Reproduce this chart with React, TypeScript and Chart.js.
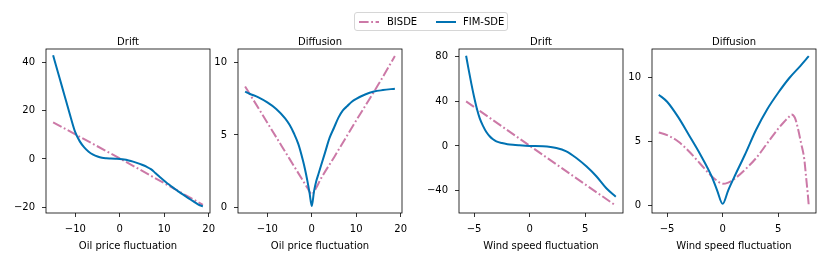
import React, { useEffect, useRef } from 'react';
import { Chart, registerables } from 'chart.js';

Chart.register(...registerables);

const BLUE = '#0072B2';
const PINK = '#CC79A7';
const FONT = '"DejaVu Sans", sans-serif';

// ---------- Panel 1: Oil drift ----------
const OIL_DRIFT_FIM_X = [-15, -14, -13, -12, -11, -10, -9, -8, -7, -6, -5, -4, -3, -2, -1, 0, 1, 2, 3, 4, 5, 6, 7, 8, 9, 10, 11, 12, 13, 14, 15, 16, 17, 18, 18.7];
const OIL_DRIFT_FIM_Y = [43, 36.5, 30, 23.5, 17, 11, 7.3, 4.8, 3, 1.8, 1.0, 0.5, 0.3, 0.2, 0.1, 0, -0.2, -0.6, -1.1, -1.7, -2.4, -3.2, -4.2, -5.8, -7.5, -9.0, -10.5, -11.9, -13.2, -14.5, -15.7, -16.9, -18.1, -19.2, -19.6];
const OIL_DRIFT_BI_X = [-15, 0, 18.7];
const OIL_DRIFT_BI_Y = [15.2, 0.2, -19.0];

// ---------- Panel 2: Oil diffusion ----------
const OIL_DIFF_FIM_X = [-15, -14, -12, -10, -8, -6, -5, -4, -3, -2, -1.5, -1, -0.5, 0, 0.5, 1, 1.5, 2, 3, 4, 5, 6, 7, 8, 9, 10, 12, 14, 16, 18.7];
const OIL_DIFF_FIM_Y = [8.0, 7.85, 7.6, 7.25, 6.8, 6.15, 5.7, 5.1, 4.35, 3.25, 2.6, 1.85, 1.0, 0.1, 1.1, 1.8, 2.3, 2.8, 3.8, 4.8, 5.5, 6.2, 6.7, 7.0, 7.3, 7.5, 7.8, 8.0, 8.1, 8.2];
const OIL_DIFF_BI_X = [-15, -10, -5, -2, -1, 0, 1, 2, 5, 10, 15, 18.7];
const OIL_DIFF_BI_Y = [8.35, 5.85, 3.35, 1.85, 1.35, 0.9, 1.35, 1.95, 3.45, 6.0, 8.5, 10.45];

// ---------- Panel 3: Wind drift ----------
const WIND_DRIFT_FIM_X = [-5.72, -5.5, -5.25, -5, -4.75, -4.5, -4.2, -3.9, -3.6, -3.3, -3.0, -2.5, -2.0, -1.5, -1.0, 0, 1.2, 2.4, 3.3, 4.2, 5.1, 6.0, 6.9, 7.75];
const WIND_DRIFT_FIM_Y = [81, 69, 56, 44, 33.5, 25, 18, 12.5, 8.7, 6, 4.2, 2.6, 1.6, 1.0, 0.6, 0, -0.3, -1.8, -4.8, -10.8, -18.3, -27.2, -38, -45.5];
const WIND_DRIFT_BI_X = [-5.72, 0, 7.75];
const WIND_DRIFT_BI_Y = [40, 0.2, -53.6];

// ---------- Panel 4: Wind diffusion ----------
const WIND_DIFF_FIM_X = [-5.75, -5, -4, -3, -2, -1, -0.5, 0, 0.5, 1, 2, 3, 4, 5, 6, 7, 7.75];
const WIND_DIFF_FIM_Y = [8.65, 8.1, 6.9, 5.45, 3.97, 2.3, 1.2, 0.15, 1.2, 2.15, 3.97, 5.9, 7.5, 8.8, 9.95, 10.9, 11.65];
const WIND_DIFF_BI_X = [-5.75, -5, -4, -3, -2, -1, -0.5, 0, 0.5, 1, 2, 3, 4, 5, 5.5, 6, 6.2, 6.5, 6.75, 7.05, 7.35, 7.5, 7.65, 7.75];
const WIND_DIFF_BI_Y = [5.7, 5.5, 5.0, 4.2, 3.25, 2.3, 1.95, 1.7, 1.8, 2.05, 2.8, 3.7, 4.85, 6.0, 6.5, 6.95, 7.1, 6.85, 6.1, 4.9, 3.6, 2.3, 1.0, 0];

// ---------- Ticks ----------
const OIL_X_TICKS = [-10, 0, 10, 20];
const WIND_X_TICKS = [-5, 0, 5];
const OIL_DRIFT_Y_TICKS = [-20, 0, 20, 40];
const OIL_DIFF_Y_TICKS = [0, 5, 10];
const WIND_DRIFT_Y_TICKS = [-40, 0, 40, 80];
const WIND_DIFF_Y_TICKS = [0, 5, 10];

const TITLES = ['Drift', 'Diffusion', 'Drift', 'Diffusion'];
const X_LABELS = ['Oil price fluctuation', 'Oil price fluctuation', 'Wind speed fluctuation', 'Wind speed fluctuation'];
const SERIES_NAMES = ['BISDE', 'FIM-SDE'];

const zip = (xs: number[], ys: number[]) => xs.map((x, i) => ({ x, y: ys[i] }));
const fmt = (v: number) => (v < 0 ? '\u2212' + Math.abs(v) : String(v));

const Y_AXIS_W = 40;
const PLOT_W = 164;
const PAD_R = 12;
const CANVAS_W = Y_AXIS_W + PLOT_W + PAD_R;
const CANVAS_H = 266;

const PANELS = [
  { left: 46, title: TITLES[0], xlabel: X_LABELS[0], fx: OIL_DRIFT_FIM_X, fy: OIL_DRIFT_FIM_Y, bx: OIL_DRIFT_BI_X, by: OIL_DRIFT_BI_Y, xt: OIL_X_TICKS, yt: OIL_DRIFT_Y_TICKS, xr: [-16.6, 20.3], yr: [-22.4, 45.6] },
  { left: 238, title: TITLES[1], xlabel: X_LABELS[1], fx: OIL_DIFF_FIM_X, fy: OIL_DIFF_FIM_Y, bx: OIL_DIFF_BI_X, by: OIL_DIFF_BI_Y, xt: OIL_X_TICKS, yt: OIL_DIFF_Y_TICKS, xr: [-16.6, 20.3], yr: [-0.39, 10.94] },
  { left: 459, title: TITLES[2], xlabel: X_LABELS[2], fx: WIND_DRIFT_FIM_X, fy: WIND_DRIFT_FIM_Y, bx: WIND_DRIFT_BI_X, by: WIND_DRIFT_BI_Y, xt: WIND_X_TICKS, yt: WIND_DRIFT_Y_TICKS, xr: [-6.36, 8.4], yr: [-60.2, 87.1] },
  { left: 652, title: TITLES[3], xlabel: X_LABELS[3], fx: WIND_DIFF_FIM_X, fy: WIND_DIFF_FIM_Y, bx: WIND_DIFF_BI_X, by: WIND_DIFF_BI_Y, xt: WIND_X_TICKS, yt: WIND_DIFF_Y_TICKS, xr: [-6.36, 8.4], yr: [-0.57, 12.21] },
];

const framePlugin = {
  id: 'frame',
  afterDraw(chart: any) {
    const { ctx, chartArea: a } = chart;
    ctx.save();
    ctx.strokeStyle = '#000';
    ctx.lineWidth = 0.8;
    ctx.strokeRect(a.left, a.top, a.right - a.left, a.bottom - a.top);
    ctx.restore();
  },
};

const gridOpts = { display: true, drawOnChartArea: false, drawTicks: true, tickLength: 4, color: '#000', lineWidth: 0.8 };

function Panel({ p }: { p: any }) {
  const ref = useRef<HTMLCanvasElement>(null);
  useEffect(() => {
    if (!ref.current) return;
    const chart = new Chart(ref.current, {
      type: 'scatter',
      data: {
        datasets: [
          {
            label: SERIES_NAMES[0],
            data: zip(p.bx, p.by),
            showLine: true,
            borderColor: PINK,
            backgroundColor: PINK,
            borderWidth: 2,
            borderDash: [9.6, 2.6, 1.8, 2.6],
            pointRadius: 0,
            cubicInterpolationMode: 'monotone',
            borderJoinStyle: 'round',
            order: 1,
          },
          {
            label: SERIES_NAMES[1],
            data: zip(p.fx, p.fy),
            showLine: true,
            borderColor: BLUE,
            backgroundColor: BLUE,
            borderWidth: 2,
            pointRadius: 0,
            cubicInterpolationMode: 'monotone',
            borderJoinStyle: 'round',
            order: 0,
          },
        ],
      },
      options: {
        animation: false,
        responsive: false,
        maintainAspectRatio: false,
        events: [],
        layout: { padding: { top: 30, right: PAD_R, bottom: 0, left: 0 } },
        plugins: {
          legend: { display: false },
          tooltip: { enabled: false },
          title: {
            display: true,
            text: p.title,
            fullSize: false,
            color: '#000',
            font: { family: FONT, size: 10, weight: 'normal' },
            padding: { top: 6.5, bottom: 0.5 },
          },
        },
        scales: {
          x: {
            type: 'linear',
            min: p.xr[0],
            max: p.xr[1],
            afterBuildTicks: (s: any) => { s.ticks = p.xt.map((v: number) => ({ value: v })); },
            afterFit: (s: any) => { s.height = CANVAS_H - 213; },
            grid: gridOpts,
            border: { display: false },
            ticks: { color: '#000', font: { family: FONT, size: 10 }, padding: 6, maxRotation: 0, autoSkip: false, callback: (v: any) => fmt(Number(v)) },
            title: { display: true, text: p.xlabel, color: '#000', font: { family: FONT, size: 10 }, padding: { top: 0, bottom: 13.5 } },
          },
          y: {
            type: 'linear',
            min: p.yr[0],
            max: p.yr[1],
            afterBuildTicks: (s: any) => { s.ticks = p.yt.map((v: number) => ({ value: v })); },
            afterFit: (s: any) => { s.width = Y_AXIS_W; },
            grid: gridOpts,
            border: { display: false },
            ticks: { color: '#000', font: { family: FONT, size: 10 }, padding: 7, autoSkip: false, callback: (v: any) => fmt(Number(v)) },
          },
        },
      } as any,
      plugins: [framePlugin],
    } as any);
    return () => chart.destroy();
  }, [p]);
  return (
    <canvas
      ref={ref}
      width={CANVAS_W}
      height={CANVAS_H}
      style={{ position: 'absolute', left: p.left - Y_AXIS_W, top: 0, width: CANVAS_W, height: CANVAS_H }}
    />
  );
}

function Legend() {
  const textStyle: React.CSSProperties = { position: 'absolute', top: 0, lineHeight: '18px', fontSize: 10, fontFamily: FONT, color: '#000', whiteSpace: 'nowrap' };
  return (
    <div
      style={{
        position: 'absolute', left: 354, top: 12, width: 154, height: 19, boxSizing: 'border-box',
        border: '1px solid #d6d6d6', borderRadius: 3, background: 'rgba(255,255,255,0.8)',
      }}
    >
      <svg style={{ position: 'absolute', left: 3, top: 0 }} width={22} height={18}>
        <line x1={1} y1={9} x2={21} y2={9} stroke={PINK} strokeWidth={2} strokeDasharray="9.6 2.6 1.8 2.6" />
      </svg>
      <span style={{ ...textStyle, left: 32 }}>{SERIES_NAMES[0]}</span>
      <svg style={{ position: 'absolute', left: 80, top: 0 }} width={22} height={18}>
        <line x1={1} y1={9} x2={21} y2={9} stroke={BLUE} strokeWidth={2} />
      </svg>
      <span style={{ ...textStyle, left: 108 }}>{SERIES_NAMES[1]}</span>
    </div>
  );
}

export default function App() {
  return (
    <div style={{ position: 'fixed', left: 0, top: 0, width: 831, height: 266, background: '#fff', overflow: 'hidden' }}>
      {PANELS.map((p, i) => (
        <Panel key={i} p={p} />
      ))}
      <Legend />
    </div>
  );
}
